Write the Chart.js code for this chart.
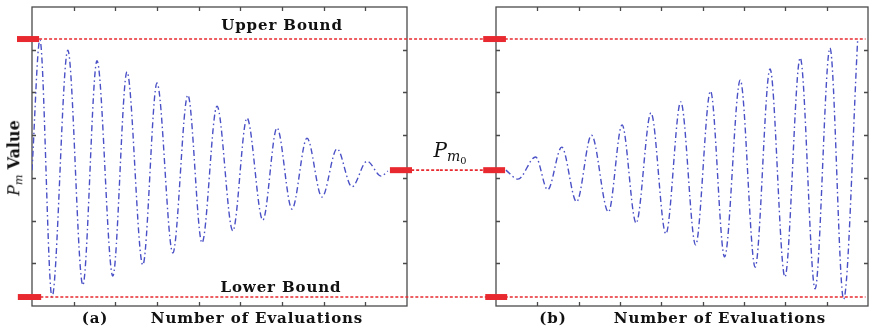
<!DOCTYPE html>
<html>
<head>
<meta charset="utf-8">
<script src="https://cdn.jsdelivr.net/npm/chart.js@4"></script>
<style>
  html, body { margin: 0; padding: 0; background: #fff; }
  #wrap { position: relative; width: 872px; height: 331px; overflow: hidden; }
  canvas { position: absolute; top: 0; }
  .lbl { position: absolute; font-family: "DejaVu Serif", serif; font-weight: bold; font-size: 15px; line-height: 15px; letter-spacing: 0.9px; color: #111; white-space: nowrap; transform: translateX(-50%); }
  .math { position: absolute; font-family: "DejaVu Serif", serif; font-style: italic; color: #111; white-space: nowrap; }
  .math sub { font-size: 70%; vertical-align: -0.3em; }
  .math sub sub { font-style: normal; }
</style>
</head>
<body>
<div id="wrap">
  <canvas id="chartA" width="440" height="331" style="left:0"></canvas>
  <canvas id="chartB" width="432" height="331" style="left:440px"></canvas>

  <div class="lbl" style="left:282px; top:18px">Upper Bound</div>
  <div class="lbl" style="left:281px; top:280px">Lower Bound</div>
  <div class="lbl" style="left:95px; top:311px">(a)</div>
  <div class="lbl" style="left:257px; top:311px">Number of Evaluations</div>
  <div class="lbl" style="left:553px; top:311px">(b)</div>
  <div class="lbl" style="left:720px; top:311px">Number of Evaluations</div>
  <div class="math" style="left:15px; top:158px; font-size:16px; transform: translate(-50%,-50%) rotate(-90deg)"><i>P</i><sub><i>m</i></sub> <b style="font-style:normal">Value</b></div>
  <div class="math" style="left:450px; top:152px; font-size:20px; transform: translate(-50%,-50%)">P<sub>m<sub>0</sub></sub></div>
</div>

<script>
// reference levels (same y units on both panels, 0..7)
const upperBound = 6.25;
const lowerBound = 0.21;
const pm0 = 3.18;

// panel (a): damped oscillation, extrema
const aX = [0, 0.19, 0.48, 0.86, 1.22, 1.56, 1.94, 2.28, 2.66, 3.00, 3.38, 3.74, 4.08, 4.44, 4.82, 5.16, 5.54, 5.88, 6.24, 6.60, 6.96, 7.32, 7.68, 8.04, 8.38, 8.54];
const aY = [3.18, 6.23, 0.21, 5.99, 0.49, 5.74, 0.70, 5.48, 0.96, 5.22, 1.24, 4.94, 1.48, 4.68, 1.76, 4.40, 2.01, 4.17, 2.27, 3.93, 2.55, 3.68, 2.79, 3.39, 3.04, 3.16];

// panel (b): growing oscillation
const bX = [0.24, 0.53, 0.96, 1.25, 1.59, 1.95, 2.31, 2.72, 3.05, 3.39, 3.75, 4.11, 4.47, 4.83, 5.19, 5.53, 5.91, 6.27, 6.63, 6.99, 7.36, 7.72, 8.08, 8.41, 8.75];
const bY = [3.18, 2.97, 3.49, 2.72, 3.72, 2.44, 4.00, 2.20, 4.24, 1.94, 4.52, 1.69, 4.78, 1.43, 5.03, 1.15, 5.29, 0.91, 5.55, 0.68, 5.81, 0.40, 6.04, 0.16, 6.23];

const xTicks = [1, 2, 3, 4, 5, 6, 7, 8];
const yTicks = [1, 2, 3, 4, 5, 6];

const blue = '#4a50c6';
const red = '#e82a30';

const frame = {
    id: 'frame',
    beforeDatasetsDraw(chart) {
        const { ctx, chartArea: a, scales: { x, y } } = chart;
        ctx.save();
        ctx.strokeStyle = '#4a4a4a';
        ctx.lineWidth = 1.3;
        ctx.strokeRect(a.left, a.top, a.right - a.left, a.bottom - a.top);
        ctx.beginPath();
        xTicks.forEach(v => {
            const px = Math.round(x.getPixelForValue(v)) + 0.5;
            ctx.moveTo(px, a.bottom); ctx.lineTo(px, a.bottom - 4);
            ctx.moveTo(px, a.top); ctx.lineTo(px, a.top + 4);
        });
        yTicks.forEach(v => {
            const py = Math.round(y.getPixelForValue(v)) + 0.5;
            ctx.moveTo(a.left, py); ctx.lineTo(a.left + 4, py);
            ctx.moveTo(a.right, py); ctx.lineTo(a.right - 4, py);
        });
        ctx.stroke();
        ctx.restore();
    }
};

function curve(xs, ys) {
    return {
        data: xs.map((v, i) => ({ x: v, y: ys[i] })),
        borderColor: blue, borderWidth: 1.4, borderDash: [6, 3, 1.5, 3],
        pointRadius: 0, cubicInterpolationMode: 'monotone', order: 2
    };
}
function dashed(x0, x1, lvl) {
    return {
        data: [{ x: x0, y: lvl }, { x: x1, y: lvl }],
        borderColor: red, borderWidth: 1.6, borderDash: [3, 2],
        pointRadius: 0, clip: false, order: 1
    };
}
function marker(x0, x1, lvl) {
    return {
        data: [{ x: x0, y: lvl }, { x: x1, y: lvl }],
        borderColor: red, borderWidth: 6, borderCapStyle: 'butt',
        pointRadius: 0, clip: false, order: 0
    };
}

function options(pad) {
    return {
        responsive: false,
        animation: false,
        layout: { padding: pad },
        plugins: { legend: { display: false }, tooltip: { enabled: false } },
        scales: {
            x: { type: 'linear', min: 0, max: 9, display: false },
            y: { type: 'linear', min: 0, max: 7, display: false }
        }
    };
}

new Chart(document.getElementById('chartA'), {
    type: 'line',
    data: {
        datasets: [
            curve(aX, aY),
            dashed(0.17, 9.8, upperBound),
            dashed(0.2, 9.8, lowerBound),
            dashed(9.1, 9.8, pm0),
            marker(-0.36, 0.17, upperBound),
            marker(-0.34, 0.22, lowerBound),
            marker(8.59, 9.12, pm0)
        ]
    },
    options: options({ left: 32, right: 33, top: 7, bottom: 25 }),
    plugins: [frame]
});

new Chart(document.getElementById('chartB'), {
    type: 'line',
    data: {
        datasets: [
            curve(bX, bY),
            dashed(-1.36, 8.94, upperBound),
            dashed(-1.36, 8.94, lowerBound),
            dashed(-1.36, -0.3, pm0),
            marker(-0.31, 0.24, upperBound),
            marker(-0.26, 0.27, lowerBound),
            marker(-0.31, 0.22, pm0)
        ]
    },
    options: options({ left: 56, right: 4, top: 7, bottom: 25 }),
    plugins: [frame]
});
</script>
</body>
</html>
